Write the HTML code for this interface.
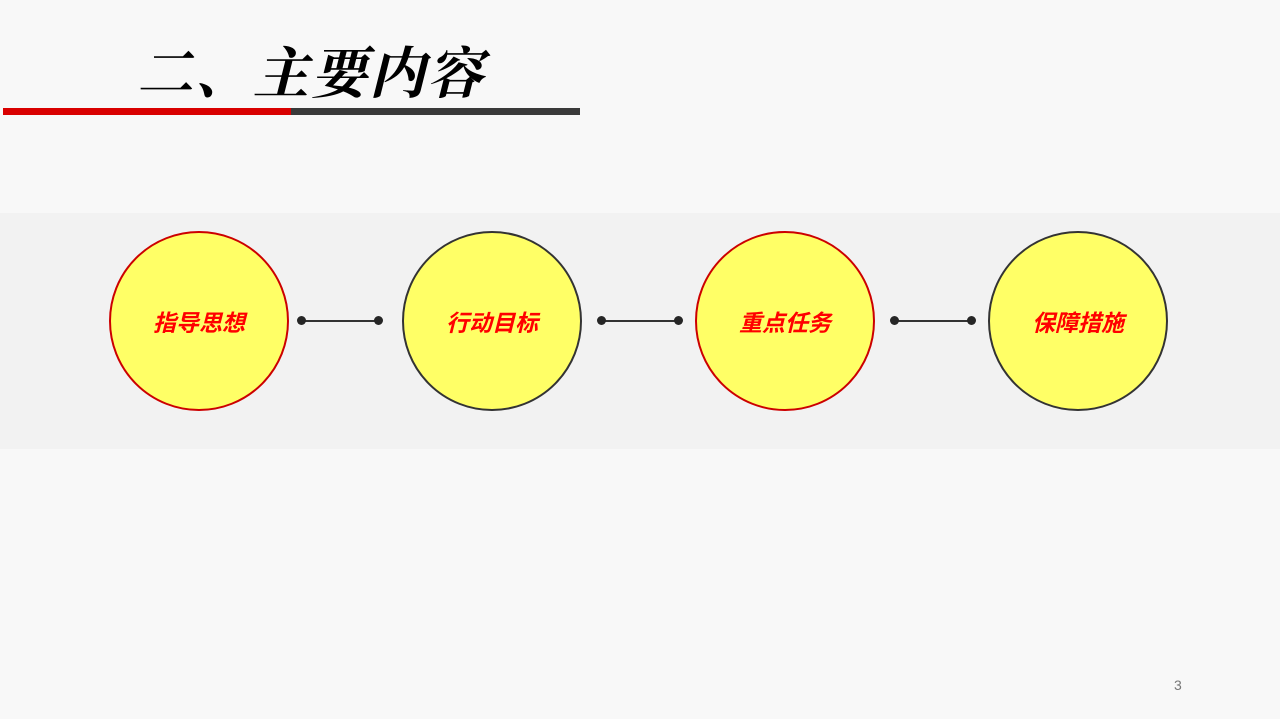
<!DOCTYPE html>
<html><head><meta charset="utf-8"><style>
html,body{margin:0;padding:0}
body{width:1280px;height:719px;background:#f8f8f8;position:relative;overflow:hidden;font-family:"Liberation Sans","Noto Sans CJK SC",sans-serif}
.t{position:absolute;left:137px;top:40px;font-family:"Liberation Serif","Noto Serif CJK SC",serif;font-size:56px;font-weight:bold;font-style:italic;color:#000;letter-spacing:2px;line-height:70px;white-space:nowrap}
.band{position:absolute;left:0;top:213px;width:1280px;height:236px;background:#f2f2f2}
.c{position:absolute;top:231px;width:176px;height:176px;border-radius:50%;background:#ffff66;border:2px solid #cc0000;display:flex;align-items:center;justify-content:center;color:#ff0000;font-size:23px;font-weight:bold;font-style:italic}
.c.d{border-color:#333}
.dot{position:absolute;top:316px;width:9px;height:9px;border-radius:50%;background:#262626}
.ln{position:absolute;top:320px;height:1.5px;background:#333}
</style></head><body>
<div class="t">二、主要内容</div>
<div style="position:absolute;left:3px;top:108px;width:288px;height:7px;background:#d90000"></div>
<div style="position:absolute;left:291px;top:108px;width:289px;height:7px;background:#3a3a3a"></div>
<div class="band"></div>
<div class="c" style="left:109px">指导思想</div>
<div class="c d" style="left:402px">行动目标</div>
<div class="c" style="left:695px">重点任务</div>
<div class="c d" style="left:988px">保障措施</div>
<div class="ln" style="left:301px;width:77px"></div><div class="dot" style="left:297px"></div><div class="dot" style="left:374px"></div>
<div class="ln" style="left:601px;width:77px"></div><div class="dot" style="left:597px"></div><div class="dot" style="left:674px"></div>
<div class="ln" style="left:894px;width:77px"></div><div class="dot" style="left:890px"></div><div class="dot" style="left:967px"></div>
<div style="position:absolute;left:1174px;top:677px;font-size:14px;color:#777">3</div>
</body></html>
